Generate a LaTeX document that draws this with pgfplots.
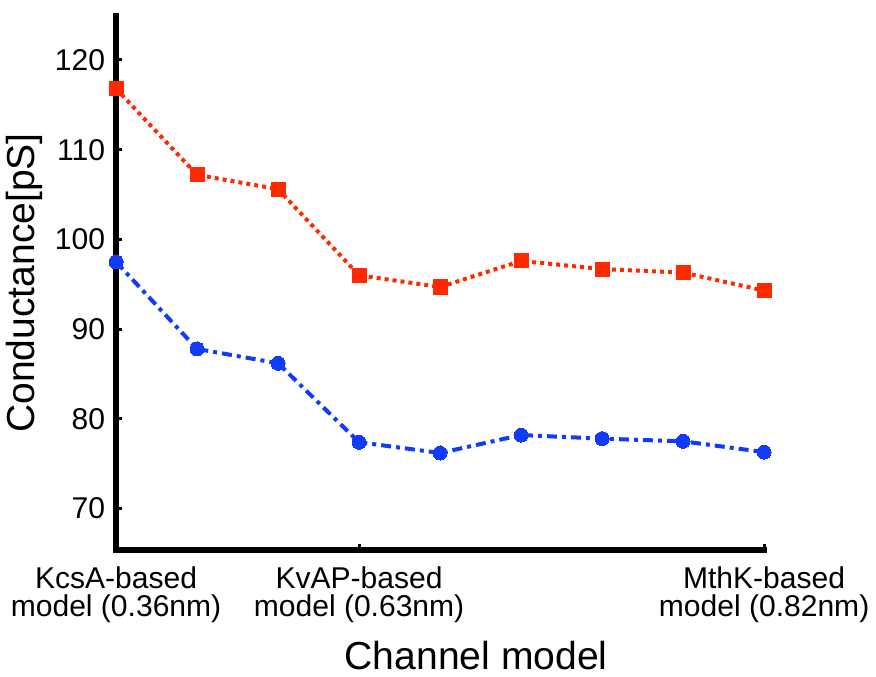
\documentclass[border=0pt]{standalone}
\usepackage{fontspec}
\setmainfont{Liberation Sans}
\usepackage{pgfplots}
\pgfplotsset{compat=1.18}
\definecolor{sred}{RGB}{255,42,0}
\definecolor{sblue}{RGB}{18,58,250}

\begin{document}
\begin{tikzpicture}
\begin{axis}[
  name=main,
  scale only axis,
  width=323.5pt, height=266.5pt,
  xmin=0, xmax=8,
  ymin=65.4, ymax=124.9,
  axis x line*=bottom,
  axis y line*=left,
  axis line style={line width=3pt, line cap=rect},
  tick align=inside,
  major tick length=3pt,
  tick style={line width=1.5pt, black},
  xtick={0,3,8},
  xticklabels={KcsA-based\\model (0.36nm), KvAP-based\\model (0.63nm), MthK-based\\model (0.82nm)},
  xticklabel style={align=center, font=\fontsize{15}{14}\selectfont, yshift=-5pt},
  ytick={70,80,90,100,110,120},
  yticklabel style={font=\fontsize{15}{16}\selectfont, xshift=-2pt},
  /pgf/number format/assume math mode=true,
  xlabel={Channel model},
  ylabel={Conductance[pS]},
  xlabel style={font=\fontsize{19.5}{21}\selectfont, xshift=18pt, yshift=-2pt},
  ylabel style={font=\fontsize{19.5}{21}\selectfont, yshift=-1pt},
  clip=false,
]
\addplot[sred, line width=2pt, dash pattern=on 2pt off 2pt,
  mark=square*, mark size=3.5pt, mark options={solid, fill=sred, draw=sred, line width=0pt}]
  coordinates {(0,116.8) (1,107.2) (2,105.6) (3,96.0) (4,94.7) (5,97.6) (6,96.7) (7,96.3) (8,94.3)};
\addplot[sblue, line width=2pt, dash pattern=on 5pt off 2.5pt on 2pt off 2.5pt,
  mark=*, mark size=3.5pt, mark options={solid, fill=sblue, draw=sblue, line width=0pt}]
  coordinates {(0,97.5) (1,87.8) (2,86.2) (3,77.4) (4,76.2) (5,78.2) (6,77.8) (7,77.5) (8,76.3)};
\end{axis}
% room above the axis top, as in the reference
\path (main.north west) ++(0,8pt) coordinate (toppad);
\end{tikzpicture}
\end{document}
